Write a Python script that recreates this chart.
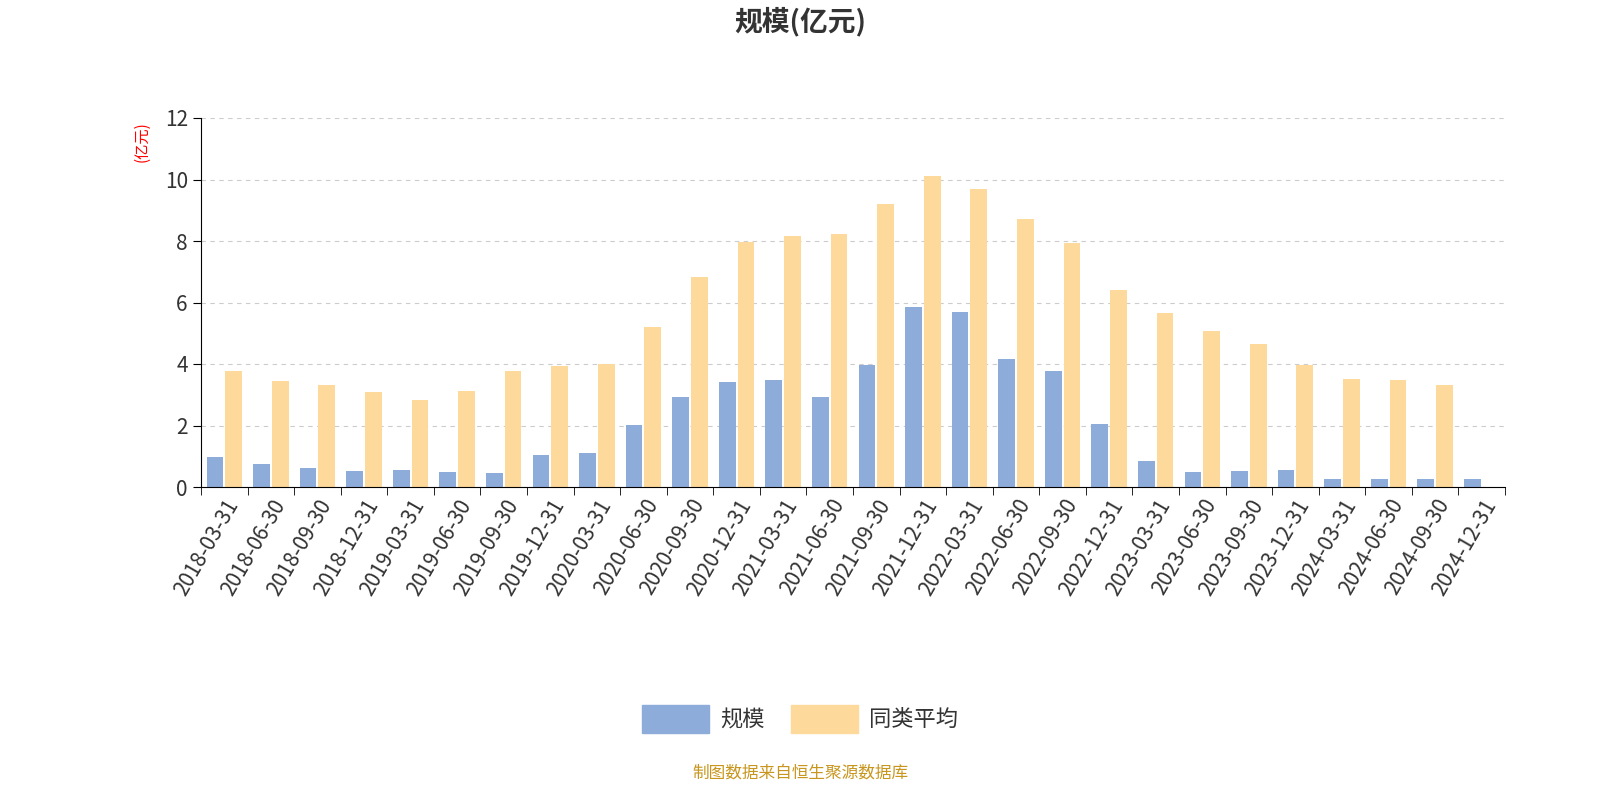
import numpy as np, pandas as pd, seaborn as sns, matplotlib
matplotlib.use("Agg")
import matplotlib.pyplot as plt
from matplotlib import font_manager as fm
import matplotlib.patches as mpatches

dates = ["2018-03-31","2018-06-30","2018-09-30","2018-12-31","2019-03-31","2019-06-30","2019-09-30","2019-12-31",
         "2020-03-31","2020-06-30","2020-09-30","2020-12-31","2021-03-31","2021-06-30","2021-09-30","2021-12-31",
         "2022-03-31","2022-06-30","2022-09-30","2022-12-31","2023-03-31","2023-06-30","2023-09-30","2023-12-31",
         "2024-03-31","2024-06-30","2024-09-30","2024-12-31"]
scale = [0.98,0.75,0.62,0.52,0.55,0.49,0.46,1.04,1.10,2.02,2.93,3.41,3.48,2.93,3.97,5.85,
         5.69,4.16,3.77,2.05,0.85,0.49,0.52,0.55,0.26,0.26,0.26,0.26]
avg = [3.78,3.45,3.32,3.08,2.82,3.12,3.77,3.93,4.00,5.20,6.83,7.97,8.16,8.23,9.20,10.12,
       9.68,8.73,7.93,6.42,5.67,5.07,4.65,3.98,3.50,3.48,3.32,np.nan]

cjk = None
for f in fm.findSystemFonts():
    if "CJK" in f or "cjk" in f.lower():
        try:
            fm.fontManager.addfont(f)
        except Exception:
            pass
names = sorted({f.name for f in fm.fontManager.ttflist if "CJK" in f.name})
cjk = next((n for n in names if n.endswith("SC")), names[0] if names else "DejaVu Sans")
plt.rcParams["font.family"] = "sans-serif"
plt.rcParams["font.sans-serif"] = [cjk, "DejaVu Sans"]

df = pd.DataFrame({"date": dates*2, "v": scale+avg, "s": ["规模"]*len(dates)+["同类平均"]*len(dates)})

fig = plt.figure(figsize=(16, 8), dpi=100)
ax = fig.add_axes([201/1600, 1-487/800, 1304/1600, 369/800])
sns.barplot(data=df, x="date", y="v", hue="s", palette=["#8eacd9", "#fdd99b"], ax=ax,
            width=0.8, gap=0.1, legend=False, edgecolor="none", saturation=1)
ax.set_ylim(0, 12)
ax.set_yticks(range(0, 13, 2))
ax.set_xlim(-0.5, len(dates)-0.5)
ax.set_xticks(np.arange(len(dates)))
ax.set_xticklabels(dates, rotation=60, ha="right", rotation_mode="anchor", fontsize=15, color="#333")
ax.set_xticks(np.arange(len(dates)+1)-0.5, minor=True)
ax.tick_params(axis="x", which="major", length=0, pad=6)
ax.tick_params(axis="x", which="minor", length=6)
ax.tick_params(axis="y", labelsize=15, labelcolor="#333", length=6)
ax.grid(axis="y", linestyle=(0, (4, 4)), color="#cccccc")
ax.set_axisbelow(True)
for s in ["top", "right"]:
    ax.spines[s].set_visible(False)
ax.set_xlabel(""); ax.set_ylabel("")
fig.text(142/1600, 1-142/800, "(亿元)", color="red", rotation=90, ha="center", va="center", fontsize=11)
fig.text(0.5, 1-22/800, "规模(亿元)", ha="center", va="center", fontsize=20, fontweight="bold", color="#333")
h = [mpatches.Patch(color="#8eacd9", label="规模"), mpatches.Patch(color="#fdd99b", label="同类平均")]
fig.legend(handles=h, loc="center", bbox_to_anchor=(0.5, 1-719/800), ncol=2, frameon=False,
           fontsize=16, handlelength=3, handleheight=1.5, columnspacing=1.2, handletextpad=0.5, labelcolor="#333")
fig.text(0.5, 1-773/800, "制图数据来自恒生聚源数据库", ha="center", va="center", fontsize=12, color="#c8961e")
fig.savefig("out.png", dpi=100)
